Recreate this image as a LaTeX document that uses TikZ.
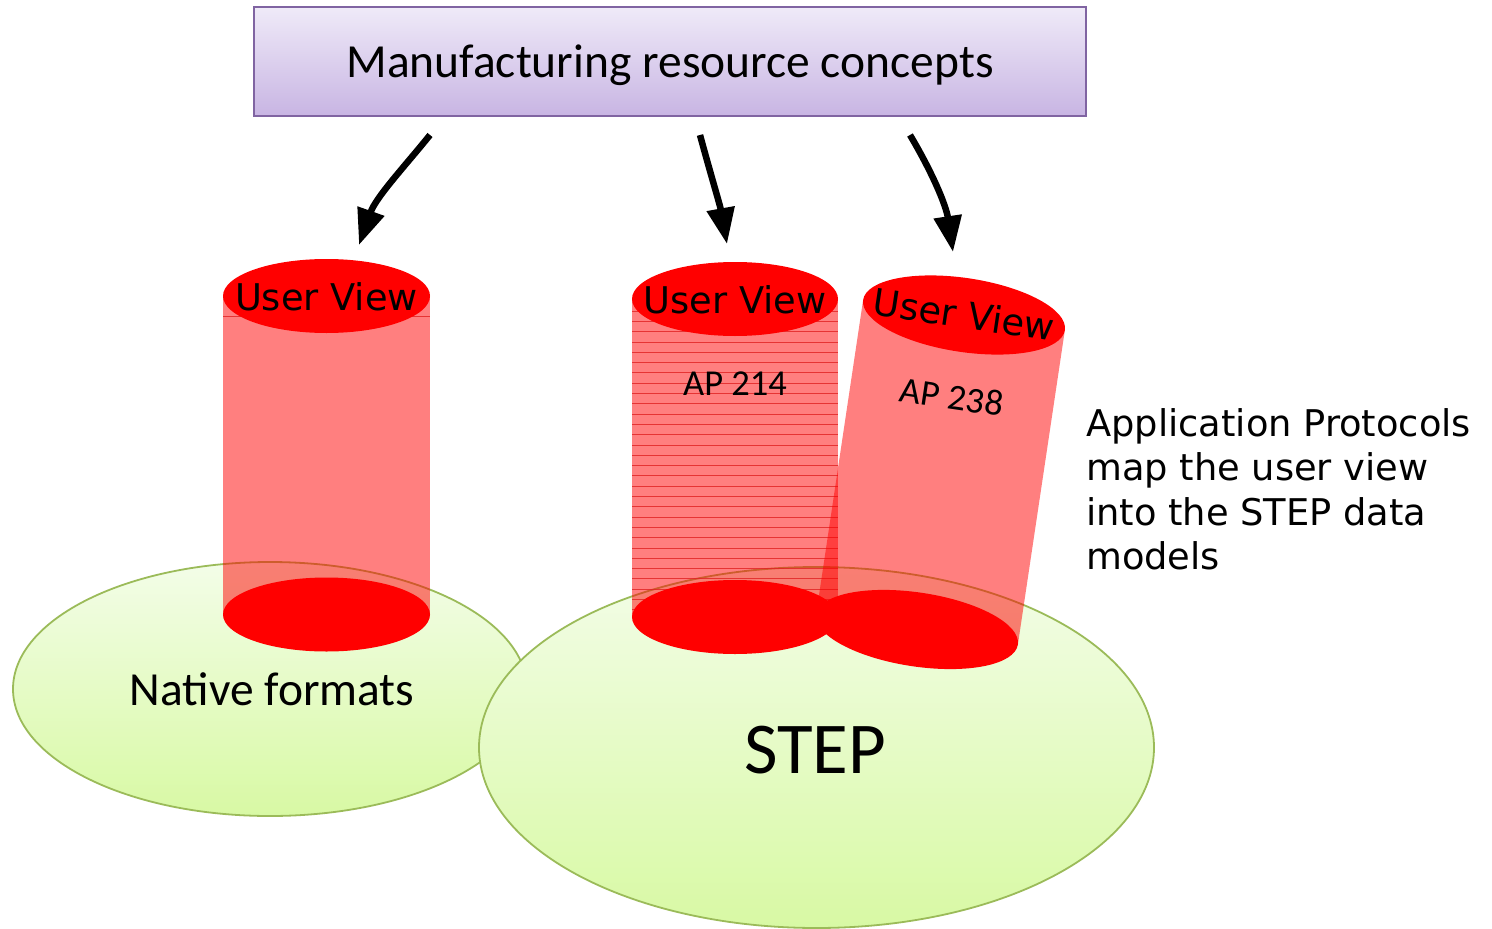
\documentclass[tikz,border=0pt]{standalone}
\usepackage{fontspec}
\setmainfont{Carlito}
\newfontfamily\verd{DejaVu Sans}
\usetikzlibrary{shapes.geometric,arrows.meta}
\definecolor{boxtop}{HTML}{EFEAF8}
\definecolor{boxbot}{HTML}{C8B5E3}
\definecolor{boxline}{HTML}{8064A2}
\definecolor{gtop}{HTML}{F3FDE8}
\definecolor{gbot}{HTML}{D8F9A4}
\definecolor{gline}{HTML}{9BBB59}
\definecolor{hatchred}{HTML}{E02222}
\begin{document}
\begin{tikzpicture}[x=1pt,y=-1pt,
  titlebox/.style={draw=boxline,line width=2pt,top color=boxtop,bottom color=boxbot,
    minimum width=832pt,minimum height=109pt,inner sep=0pt},
  titletext/.style={font=\fontsize{47.5}{57}\selectfont,inner sep=0pt,anchor=base},
  blob/.style={ellipse,draw=gline,line width=1.8pt,top color=gtop,bottom color=gbot,inner sep=0pt},
  blobtext/.style={inner sep=0pt,anchor=base},
  cylbody/.style={fill=red,fill opacity=0.5},
  lid/.style={ellipse,fill=red,inner sep=0pt,minimum width=207pt,minimum height=74pt},
  uvtext/.style={font=\verd\fontsize{36.8}{44}\selectfont,inner sep=0pt,anchor=base},
  aptext/.style={font=\fontsize{36.5}{44}\selectfont,inner sep=0pt,anchor=base},
  hatch/.style={draw=hatchred,line width=0.8pt,opacity=0.8},
  bigarrow/.style={line width=6.5pt,-{Triangle[length=36pt,width=27pt]}}
]
\useasboundingbox (0,0) rectangle (1492,929);

% title
\node[titlebox] (title) at (670,61.5) {};
\node[titletext] (titlelbl) at (670,77) {Manufacturing resource concepts};

% ground ellipses
\node[blob,minimum width=514pt,minimum height=254pt] (native) at (270,689) {};
\node[blob,minimum width=675pt,minimum height=361pt] (step) at (816.5,747.5) {};
\node[blobtext,font=\fontsize{47.5}{57}\selectfont] (nativelbl) at (272,705) {Native formats};
\node[blobtext,font=\fontsize{73}{88}\selectfont] (steplbl) at (815,773) {STEP};

% cylinder bodies
\fill[cylbody] (223,296) rectangle (430,614.5);
\draw[hatch] (223,316) -- (430,316);
\fill[cylbody] (632,299) rectangle (838,617);
\foreach \k in {0,...,29}{
  \draw[hatch] (632,{311+10.3*\k}) -- (838,{311+10.3*\k});
}
\begin{scope}[shift={(964,315)},rotate=-8.5]
  \fill[cylbody] (-102,0) rectangle (102,318);
\end{scope}

% bottom lids
\node[lid] (botL) at (326.5,614.5) {};
\node[lid,minimum width=206pt] (botM) at (735,617) {};
\begin{scope}[shift={(964,315)},rotate=-8.5,transform shape]
  \node[lid,minimum width=204pt] (botR) at (0,318) {};
\end{scope}

% top lids
\node[lid] (topL) at (326.5,296) {};
\node[uvtext] (uvL) at (326.5,310) {User View};
\node[lid,minimum width=206pt] (topM) at (735,299) {};
\node[uvtext] (uvM) at (735,313) {User View};
\node[aptext] (ap214) at (735,395) {AP 214};
\begin{scope}[shift={(964,315)},rotate=-8.5,transform shape]
  \node[lid,minimum width=204pt] (topR) at (0,0) {};
  \node[uvtext] (uvR) at (0,13) {User View};
  \node[aptext] (ap238) at (0,95) {AP 238};
\end{scope}

% arrows
\coordinate (a1s) at (430,135);
\coordinate (a1e) at (359,245);
\coordinate (a2s) at (700,135);
\coordinate (a2e) at (727,244);
\coordinate (a3s) at (910,135);
\coordinate (a3e) at (953,252);
\draw[bigarrow] (a1s) .. controls (405,166) and (376,197) .. (a1e);
\draw[bigarrow] (a2s) .. controls (710,172) and (720,205) .. (a2e);
\draw[bigarrow] (a3s) .. controls (932,172) and (946,205) .. (a3e);

% side note
\node[anchor=north west,align=left,inner sep=0pt,font=\verd\fontsize{36.8}{44.5}\selectfont] (note) at (1086,408)
  {Application Protocols\\map the user view\\into the STEP data\\models};
\end{tikzpicture}
\end{document}
